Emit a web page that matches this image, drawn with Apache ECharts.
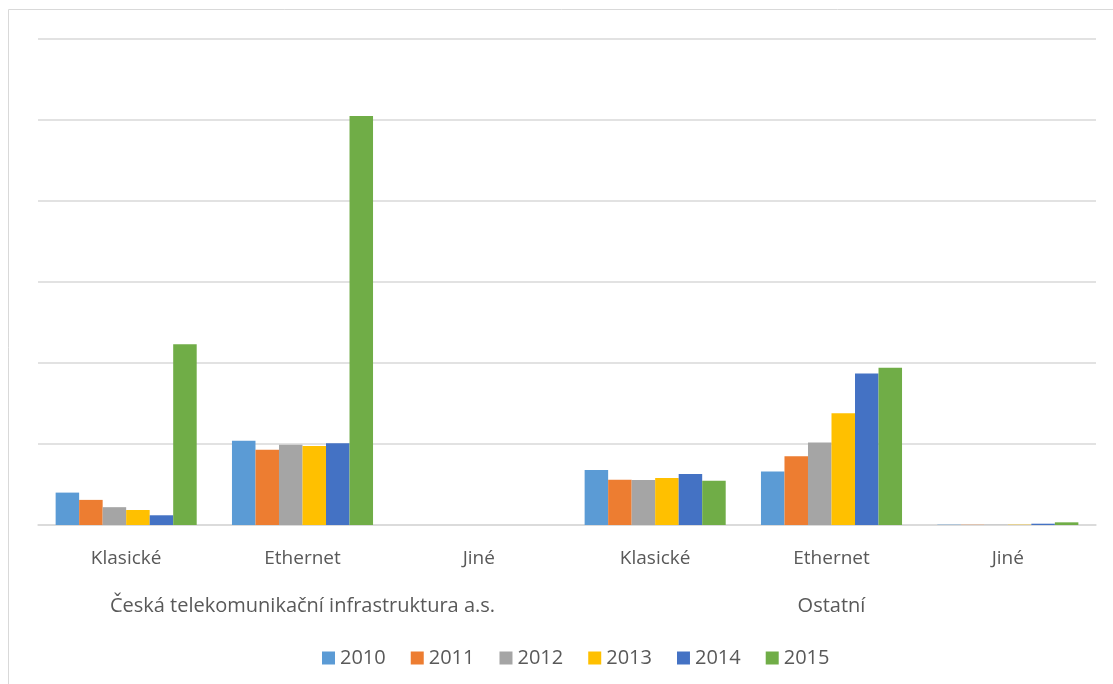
<!DOCTYPE html>
<html>
<head>
<meta charset="utf-8">
<script src="https://cdn.jsdelivr.net/npm/echarts@6/dist/echarts.min.js"></script>
<style>
  html, body { margin: 0; padding: 0; background: #fff; }
  #chart { width: 1113px; height: 684px; }
</style>
</head>
<body>
<div id="chart"></div>
<script>
// kategorie (dvě úrovně)
var categories = ['Klasické', 'Ethernet', 'Jiné', 'Klasické', 'Ethernet', 'Jiné'];
var groups = ['Česká telekomunikační infrastruktura a.s.', 'Ostatní'];
var years = ['2010', '2011', '2012', '2013', '2014', '2015'];

// hodnoty (jednotka = jedna mřížka)
var v2010 = [0.40, 1.04, 0, 0.68, 0.66, 0.004];
var v2011 = [0.31, 0.93, 0, 0.56, 0.85, 0.003];
var v2012 = [0.22, 0.99, 0, 0.555, 1.02, 0.003];
var v2013 = [0.185, 0.975, 0, 0.58, 1.38, 0.004];
var v2014 = [0.12, 1.01, 0, 0.63, 1.87, 0.016];
var v2015 = [2.23, 5.05, 0, 0.547, 1.94, 0.033];

var colors = ['#5B9BD5', '#ED7D31', '#A5A5A5', '#FFC000', '#4472C4', '#70AD47'];
var values = [v2010, v2011, v2012, v2013, v2014, v2015];

var font = '"Open Sans", "DejaVu Sans", sans-serif';
var myChart = echarts.init(document.getElementById('chart'));

var series = [];
for (var i = 0; i < years.length; i++) {
    series.push({
        name: years[i],
        type: 'bar',
        xAxisIndex: 0,
        data: values[i],
        barGap: 0,
        barCategoryGap: '20%',
        itemStyle: { color: colors[i] }
    });
}

myChart.setOption({
    animation: false,
    color: colors,
    graphic: [{
        type: 'rect',
        shape: { x: 8.5, y: 9.5, width: 1200, height: 800 },
        style: { fill: 'none', stroke: '#d9d9d9', lineWidth: 1 },
        silent: true
    }],
    grid: { left: 38, right: 17, top: 39, bottom: 159 },
    legend: {
        top: 643,
        left: 317,
        icon: 'rect',
        itemWidth: 13,
        itemHeight: 13,
        itemGap: 25,
        textStyle: { fontSize: 20, color: '#595959', fontFamily: font },
        data: years
    },
    xAxis: [{
        type: 'category',
        data: categories,
        position: 'bottom',
        axisLine: { lineStyle: { color: '#d9d9d9', width: 1.5 } },
        axisTick: { show: false },
        axisLabel: { margin: 24, fontSize: 19, color: '#595959', fontFamily: font, interval: 0 }
    }, {
        type: 'category',
        data: groups,
        position: 'bottom',
        offset: 48,
        axisLine: { show: false },
        axisTick: { show: false },
        axisLabel: { margin: 23, fontSize: 20, color: '#595959', fontFamily: font, interval: 0 }
    }],
    yAxis: {
        type: 'value',
        min: 0,
        max: 6,
        interval: 1,
        axisLabel: { show: false },
        axisLine: { show: false },
        axisTick: { show: false },
        splitLine: { lineStyle: { color: '#d9d9d9', width: 1.5 } }
    },
    series: series
});
</script>
</body>
</html>
